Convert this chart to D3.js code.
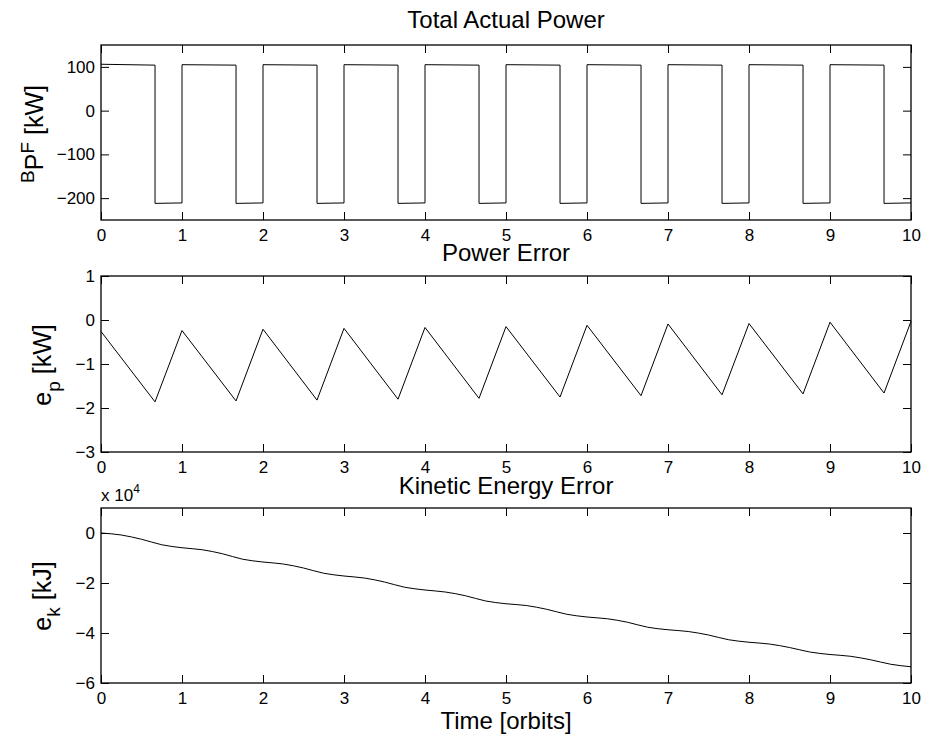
<!DOCTYPE html>
<html>
<head>
<meta charset="utf-8">
<script src="https://cdn.jsdelivr.net/npm/d3@7"></script>
<style>
    body { margin:0; background:#fff; }
    text { font-family: "Liberation Sans", Arial, Helvetica, sans-serif; fill:#000; }
    .tick text { font-size:17px; }
    .tick line { stroke:#000; stroke-width:1; }
    .domain { display:none; }
    .frame { fill:none; stroke:#000; stroke-width:1.3; }
    .trace { fill:none; stroke:#000; stroke-width:1; }
    .title { font-size:24px; text-anchor:middle; }
    .ylab { font-size:25px; text-anchor:middle; }
</style>
</head>
<body>
<svg id="plot"></svg>
<script>
    var SizeX = 926, SizeY = 742;

    // time axis, orbits
    var orbitTicks = [0,1,2,3,4,5,6,7,8,9,10];

    // Total actual power (step), kW
    var powerT = [0,0.667,0.667,1, 1,1.667,1.667,2, 2,2.667,2.667,3, 3,3.667,3.667,4,
                  4,4.667,4.667,5, 5,5.667,5.667,6, 6,6.667,6.667,7, 7,7.667,7.667,8,
                  8,8.667,8.667,9, 9,9.667,9.667,10];
    var powerP = [106,104,-212,-211, 105,104,-212,-211, 105,104,-212,-211, 105,104,-212,-211,
                  105,104,-212,-211, 105,104,-212,-211, 105,104,-212,-211, 105,104,-212,-211,
                  105,104,-212,-211, 105,104,-212,-211];
    var powerTicks = [-200,-100,0,100];

    // Power error, kW
    var errT = [0,0.667,1,1.667,2,2.667,3,3.667,4,4.667,5,5.667,6,6.667,7,7.667,8,8.667,9,9.667,10];
    var errP = [-0.26,-1.86,-0.24,-1.84,-0.21,-1.82,-0.19,-1.80,-0.17,-1.78,-0.15,-1.75,
                -0.12,-1.72,-0.09,-1.70,-0.08,-1.68,-0.05,-1.66,-0.03];
    var errTicks = [-3,-2,-1,0,1];

    // Kinetic energy error, x 10^4 kJ, every quarter orbit
    var keT = [0,0.25,0.5,0.75,1,1.25,1.5,1.75,2,2.25,2.5,2.75,3,3.25,3.5,3.75,4,4.25,4.5,4.75,
               5,5.25,5.5,5.75,6,6.25,6.5,6.75,7,7.25,7.5,7.75,8,8.25,8.5,8.75,9,9.25,9.5,9.75,10];
    var keE = [0,-0.08,-0.25,-0.47,-0.59,-0.67,-0.83,-1.05,-1.16,-1.24,-1.40,-1.61,-1.72,
               -1.80,-1.96,-2.17,-2.28,-2.36,-2.51,-2.72,-2.83,-2.90,-3.05,-3.25,-3.36,
               -3.43,-3.57,-3.77,-3.87,-3.94,-4.08,-4.27,-4.37,-4.44,-4.58,-4.76,-4.86,
               -4.93,-5.07,-5.25,-5.35];
    var keTicks = [-6,-4,-2,0];

    var Left = 101, Right = 911;

    var svg = d3.select("#plot").attr("width", SizeX).attr("height", SizeY);

    var x = d3.scaleLinear().domain([0,10]).range([Left, Right]);

    function fmt(d) { return d < 0 ? "\u2212" + Math.abs(d) : "" + d; }

    function panel(top, bottom, ydomain, yticks, xs, ys, curve)
    {
        var y = d3.scaleLinear().domain(ydomain).range([bottom, top]);
        var g = svg.append("g");

        g.append("g").attr("transform", "translate(0," + bottom + ")")
            .call(d3.axisBottom(x).tickValues(orbitTicks).tickSize(-8).tickSizeOuter(0)
                .tickPadding(9).tickFormat(fmt));
        g.append("g").attr("transform", "translate(0," + top + ")")
            .call(d3.axisTop(x).tickValues(orbitTicks).tickSize(-8).tickSizeOuter(0)
                .tickFormat(""));
        g.append("g").attr("transform", "translate(" + Left + ",0)")
            .call(d3.axisLeft(y).tickValues(yticks).tickSize(-8).tickSizeOuter(0)
                .tickPadding(6).tickFormat(fmt));
        g.append("g").attr("transform", "translate(" + Right + ",0)")
            .call(d3.axisRight(y).tickValues(yticks).tickSize(-8).tickSizeOuter(0)
                .tickFormat(""));

        var line = d3.line()
            .x((d)=>x(d[0]))
            .y((d)=>y(d[1]))
            .curve(curve || d3.curveLinear);
        g.append("path").attr("class", "trace")
            .attr("d", line(xs.map((t,i)=>[t, ys[i]])));

        g.append("rect").attr("class", "frame")
            .attr("x", Left).attr("y", top)
            .attr("width", Right - Left).attr("height", bottom - top);
        return g;
    }

    panel(45, 220, [-250,150], powerTicks, powerT, powerP);
    panel(276, 452, [-3,1], errTicks, errT, errP);
    panel(508, 683, [-6,1], keTicks, keT, keE, d3.curveMonotoneX);

    // titles
    svg.append("text").attr("class","title").attr("x", 506).attr("y", 28).text("Total Actual Power");
    svg.append("text").attr("class","title").attr("x", 506).attr("y", 261).text("Power Error");
    svg.append("text").attr("class","title").attr("x", 506).attr("y", 494).text("Kinetic Energy Error");
    svg.append("text").attr("class","title").attr("x", 506).attr("y", 729).text("Time [orbits]");

    // exponent label
    var ex = svg.append("text").attr("x", 101).attr("y", 501).style("font-size","17px");
    ex.append("tspan").text("x 10");
    ex.append("tspan").attr("dy", -8).style("font-size","12px").text("4");

    // y labels
    var yl1 = svg.append("text").attr("class","ylab")
        .attr("transform", "translate(43,134) rotate(-90)");
    yl1.append("tspan").attr("dy", -9).style("font-size","19px").text("B");
    yl1.append("tspan").attr("dy", 9).text("P");
    yl1.append("tspan").attr("dy", -9).style("font-size","19px").text("F");
    yl1.append("tspan").attr("dy", 9).text(" [kW]");

    var yl2 = svg.append("text").attr("class","ylab")
        .attr("transform", "translate(51,365) rotate(-90)");
    yl2.append("tspan").text("e");
    yl2.append("tspan").attr("dy", 9).style("font-size","19px").text("p");
    yl2.append("tspan").attr("dy", -9).text(" [kW]");

    var yl3 = svg.append("text").attr("class","ylab")
        .attr("transform", "translate(51,596) rotate(-90)");
    yl3.append("tspan").text("e");
    yl3.append("tspan").attr("dy", 9).style("font-size","19px").text("k");
    yl3.append("tspan").attr("dy", -9).text(" [kJ]");
</script>
</body>
</html>
